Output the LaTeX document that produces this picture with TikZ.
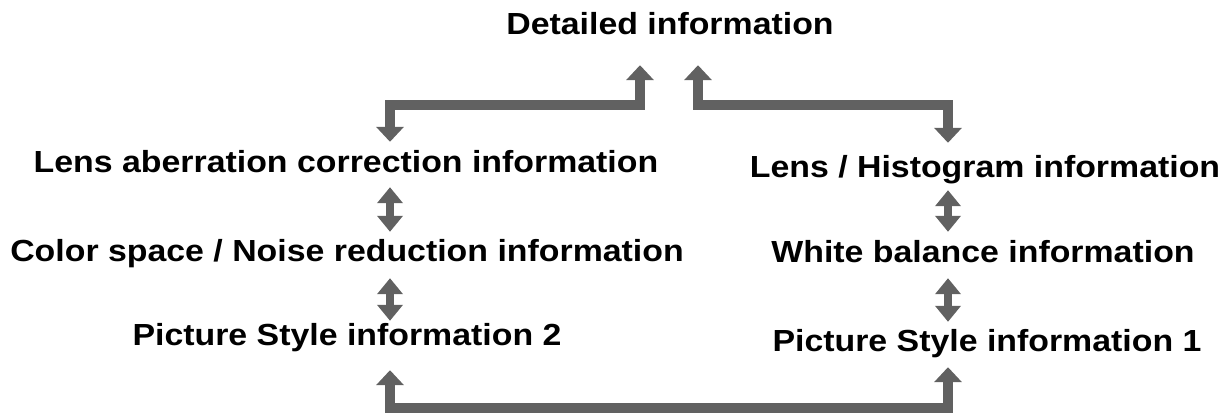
\documentclass[tikz,border=0pt]{standalone}
\usepackage{fontspec}
\setmainfont[FakeStretch=1.11]{Liberation Sans}
\usetikzlibrary{arrows.meta,positioning,calc}
\definecolor{arrowgray}{rgb}{0.38,0.38,0.38}

\begin{document}
\begin{tikzpicture}[x=1pt,y=-1pt,
    info/.style={font=\fontsize{30.5}{34}\selectfont\bfseries,inner sep=0pt,
                 text height=22pt,text depth=0pt,anchor=base},
    link/.style={draw=arrowgray,line width=10pt,
                 {Triangle[width=27pt,length=15pt]}-{Triangle[width=27pt,length=15pt]}},
    dbl/.style={draw=arrowgray,line width=8pt,
                {Triangle[width=25pt,length=16pt]}-{Triangle[width=25pt,length=16pt]}}]
  \useasboundingbox (0,0) rectangle (1226,417);
  % text blocks
  \node[info] (detail) at (670,35)  {Detailed information};
  \node[info] (lensab) at (346,172) {Lens aberration correction information};
  \node[info] (lenshi) at (985,177) {Lens / Histogram information};
  \node[info] (color)  at (347,261) {Color space / Noise reduction information};
  \node[info] (white)  at (983,262) {White balance information};
  \node[info] (ps2)    at (347,345) {Picture Style information 2};
  \node[info] (ps1)    at (987,351) {Picture Style information 1};
  % columns and rows for the arrows
  \coordinate (lx) at (390,0);
  \coordinate (rx) at (948,0);
  \coordinate (ul) at (640,0);
  \coordinate (ur) at (698,0);
  \coordinate (bar) at (0,105);
  \coordinate (low) at (0,408);
  % top elbows
  \draw[link] ([yshift=-30pt]detail.south -| ul) |- (bar -| lx) -- ([yshift=8pt]lensab.north -| lx);
  \draw[link] ([yshift=-30pt]detail.south -| ur) |- (bar -| rx) -- ([yshift=12pt]lenshi.north -| rx);
  % vertical double arrows
  \draw[dbl] ([yshift=-15pt]lensab.south -| lx) -- ([yshift=7pt]color.north -| lx);
  \draw[dbl] ([yshift=-17pt]color.south -| lx) -- ([yshift=2pt]ps2.north -| lx);
  \draw[dbl] ([yshift=-13pt]lenshi.south -| rx) -- ([yshift=8pt]white.north -| rx);
  \draw[dbl] ([yshift=-16pt]white.south -| rx) -- ([yshift=7pt]ps1.north -| rx);
  % bottom bracket
  \draw[link] ([yshift=-25pt]ps2.south -| lx) |- (low -| rx) -- ([yshift=-16pt]ps1.south -| rx);
\end{tikzpicture}
\end{document}
